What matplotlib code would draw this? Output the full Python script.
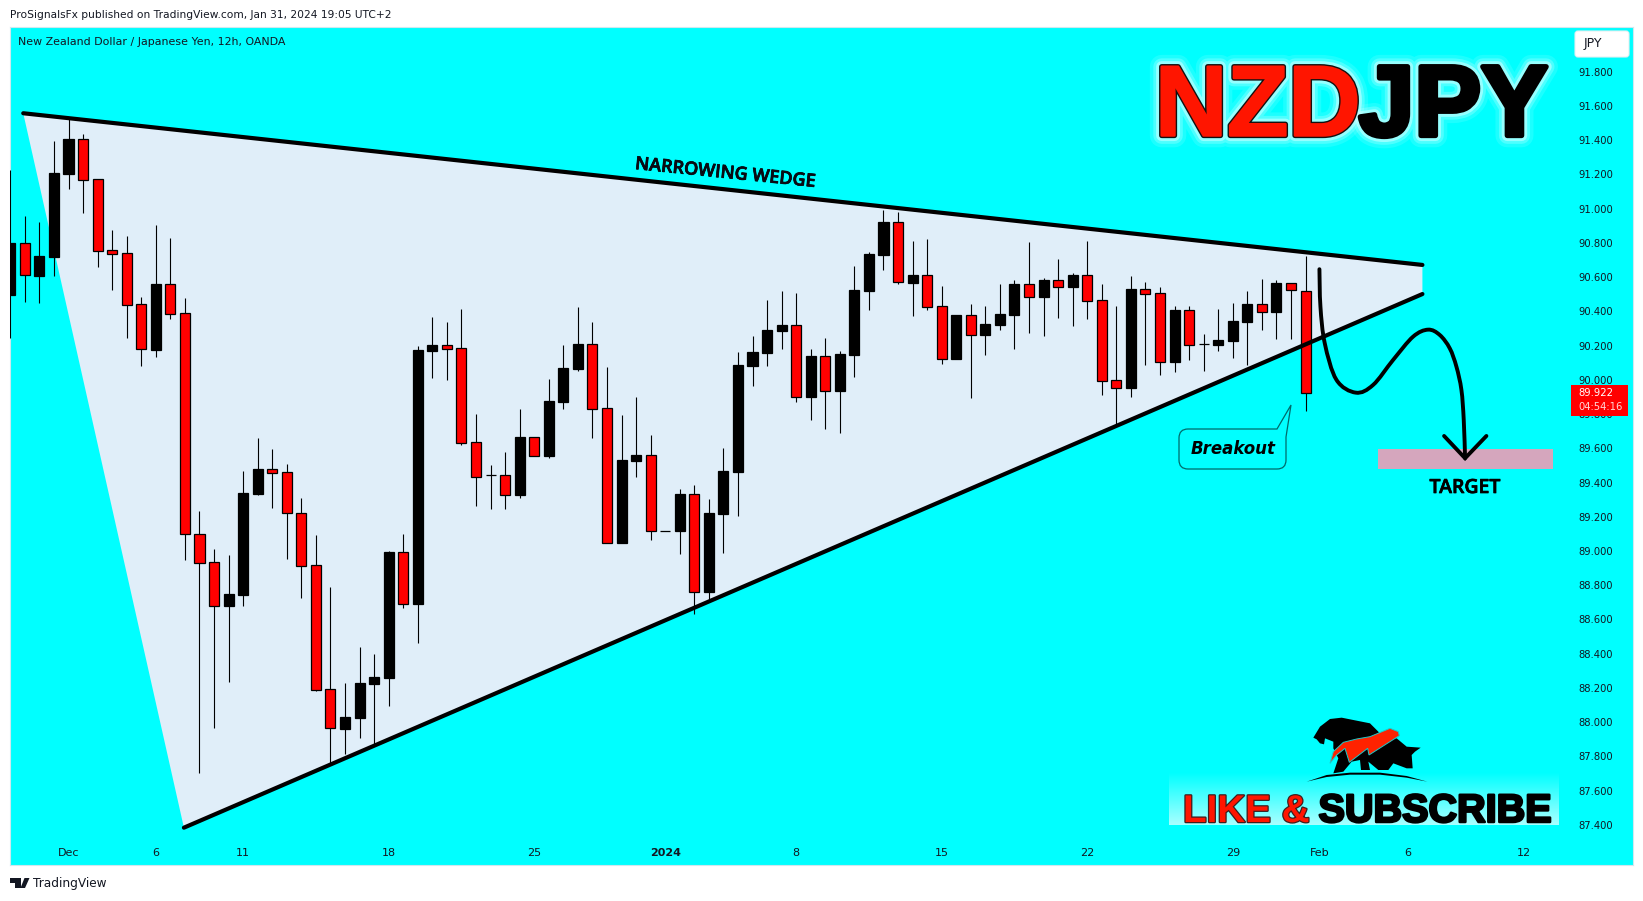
#!/usr/bin/env python3
"""NZDJPY 12h candles with a narrowing wedge, redrawn from a TradingView snapshot."""

import numpy as np
import matplotlib
matplotlib.use('Agg')
import matplotlib.pyplot as plt
import matplotlib.patheffects as pe
from matplotlib.patches import PathPatch, Polygon, Rectangle, FancyBboxPatch
from matplotlib.path import Path

CYAN = '#00FFFF'
WEDGE = '#E0EEF9'

opens = [90.498, 90.797, 90.607, 90.718, 91.202, 91.405, 91.171, 90.756, 90.739, 90.441,
         90.176, 90.558, 90.388, 89.098, 88.934, 88.681, 88.743, 89.333, 89.477, 89.460,
         89.220, 88.917, 88.192, 87.963, 88.027, 88.226, 88.261, 88.993, 88.693, 90.169,
         90.204, 90.184, 89.635, 89.443, 89.443, 89.328, 89.665, 89.556, 89.871, 90.064,
         90.208, 89.834, 89.049, 89.526, 89.559, 89.116, 89.114, 89.332, 88.763, 89.219,
         89.464, 90.081, 90.157, 90.286, 90.319, 89.900, 90.138, 89.937, 90.147, 90.521,
         90.731, 90.920, 90.568, 90.611, 90.429, 90.124, 90.377, 90.262, 90.320, 90.379,
         90.558, 90.484, 90.581, 90.542, 90.611, 90.465, 89.997, 89.954, 90.529, 90.505,
         90.104, 90.406, 90.208, 90.204, 90.227, 90.338, 90.441, 90.398, 90.564, 90.521]
highs = [91.226, 90.957, 90.922, 91.395, 91.522, 91.436, 91.171, 90.875, 90.840, 90.484,
         90.904, 90.829, 90.478, 89.234, 89.012, 88.977, 89.468, 89.661, 89.596, 89.509,
         89.310, 89.094, 88.790, 88.229, 88.440, 88.399, 89.000, 89.100, 90.198, 90.367,
         90.338, 90.414, 89.801, 89.503, 89.579, 89.830, 89.665, 90.005, 90.204, 90.426,
         90.338, 90.075, 89.795, 89.900, 89.678, 89.116, 89.363, 89.386, 89.304, 89.602,
         90.163, 90.256, 90.467, 90.519, 90.508, 90.181, 90.245, 90.169, 90.665, 90.747,
         90.992, 90.980, 90.811, 90.823, 90.548, 90.379, 90.443, 90.431, 90.560, 90.583,
         90.805, 90.593, 90.706, 90.624, 90.811, 90.560, 90.431, 90.607, 90.572, 90.542,
         90.431, 90.431, 90.268, 90.414, 90.449, 90.519, 90.589, 90.583, 90.564, 90.723]
lows = [90.242, 90.457, 90.451, 90.609, 91.117, 90.976, 90.661, 90.525, 90.246, 90.083,
        90.135, 90.357, 88.950, 87.706, 87.969, 88.237, 88.681, 89.328, 89.254, 88.956,
        88.728, 88.185, 87.760, 87.817, 87.910, 87.873, 88.097, 88.669, 88.465, 90.013,
        89.996, 89.622, 89.260, 89.248, 89.248, 89.312, 89.557, 89.546, 89.832, 90.054,
        89.663, 89.044, 89.049, 89.435, 89.067, 89.116, 88.985, 88.635, 88.705, 88.991,
        89.207, 89.961, 90.081, 90.181, 89.871, 89.766, 89.713, 89.690, 90.019, 90.410,
        90.644, 90.562, 90.375, 90.410, 90.095, 90.124, 89.896, 90.145, 90.291, 90.182,
        90.276, 90.258, 90.363, 90.317, 90.357, 89.914, 89.738, 89.902, 90.089, 90.030,
        90.048, 90.118, 90.054, 90.169, 90.130, 90.089, 90.293, 90.241, 90.241, 89.820]
closes = [90.797, 90.610, 90.723, 91.208, 91.407, 91.169, 90.755, 90.737, 90.439, 90.178,
          90.560, 90.387, 89.098, 88.932, 88.681, 88.749, 89.339, 89.479, 89.458, 89.220,
          88.915, 88.190, 87.965, 88.031, 88.229, 88.264, 88.995, 88.693, 90.174, 90.204,
          90.182, 89.633, 89.435, 89.443, 89.330, 89.667, 89.557, 89.877, 90.070, 90.210,
          89.832, 89.049, 89.532, 89.561, 89.114, 89.116, 89.334, 88.763, 89.223, 89.468,
          90.087, 90.163, 90.292, 90.321, 89.902, 90.140, 89.937, 90.151, 90.525, 90.735,
          90.922, 90.570, 90.612, 90.428, 90.124, 90.379, 90.264, 90.326, 90.385, 90.560,
          90.486, 90.583, 90.544, 90.612, 90.463, 89.995, 89.954, 90.531, 90.503, 90.106,
          90.408, 90.206, 90.208, 90.233, 90.344, 90.443, 90.398, 90.566, 90.523, 89.921]

price_ticks = [87.4, 87.6, 87.8, 88.0, 88.2, 88.4, 88.6, 88.8, 89.0, 89.2, 89.4, 89.6,
               89.8, 90.0, 90.2, 90.4, 90.6, 90.8, 91.0, 91.2, 91.4, 91.6, 91.8]
date_ticks = [4, 10, 16, 26, 36, 45, 54, 64, 74, 84, 90, 96, 104]
date_labels = ['Dec', '6', '11', '18', '25', '2024', '8', '15', '22', '29', 'Feb', '6', '12']

# wedge corners and the projected path, in bar index / price
wedge_x = [0.89, 97.03, 97.03, 11.93]
wedge_y = [91.557, 90.671, 90.501, 87.384]
path_x = [89.954, 90.023, 90.321, 91.122, 92.450, 93.641, 95.015, 96.389, 97.420, 98.221,
          98.908, 99.366, 99.710, 99.870, 99.962]
path_y = [90.646, 90.428, 90.213, 90.000, 89.925, 89.970, 90.116, 90.252, 90.293, 90.262,
          90.184, 90.077, 89.941, 89.766, 89.542]
head_x = [98.519, 99.962, 101.427]
head_y = [89.672, 89.542, 89.672]
target_x = [94.007, 106.007]
target_y = [89.477, 89.594]


def smooth_path(xs, ys):
    """Catmull-Rom through the points, written as cubic bezier segments."""
    pts = np.column_stack([xs, ys])
    verts = [pts[0]]
    codes = [Path.MOVETO]
    for i in range(len(pts) - 1):
        p0 = pts[max(i - 1, 0)]
        p1 = pts[i]
        p2 = pts[i + 1]
        p3 = pts[min(i + 2, len(pts) - 1)]
        verts += [p1 + (p2 - p0) / 6, p2 - (p3 - p1) / 6, p2]
        codes += [Path.CURVE4] * 3
    return Path(verts, codes)


fig = plt.figure(figsize=(16.43, 9.01), dpi=100, facecolor='white')
ax = fig.add_axes([10 / 1643, (901 - 865) / 901, 1623 / 1643, 837.7 / 901], facecolor=CYAN)

# wedge fill under the candles
ax.add_patch(Polygon(np.column_stack([wedge_x, wedge_y]), closed=True, facecolor=WEDGE,
                     edgecolor='none', zorder=1))

# candles
idx = np.arange(len(opens))
o = np.array(opens)
c = np.array(closes)
colors = ['red' if cl < op else 'black' for op, cl in zip(opens, closes)]
ax.vlines(idx, lows, highs, color='black', linewidth=0.8, zorder=2)
ax.bar(idx, np.abs(c - o), bottom=np.minimum(o, c), width=0.69, color=colors,
       edgecolor='black', linewidth=0.9, zorder=3)

# trend lines
ax.plot([wedge_x[0], wedge_x[1]], [wedge_y[0], wedge_y[1]], color='black', linewidth=3.0,
        solid_capstyle='round', zorder=4)
ax.plot([wedge_x[3], wedge_x[2]], [wedge_y[3], wedge_y[2]], color='black', linewidth=3.0,
        solid_capstyle='round', zorder=4)

# projection and target zone
ax.add_patch(Rectangle((target_x[0], target_y[0]), target_x[1] - target_x[0],
                       target_y[1] - target_y[0], facecolor='#D5A6BD', edgecolor='none', zorder=2))
ax.add_patch(PathPatch(smooth_path(path_x, path_y), facecolor='none', edgecolor='black',
                       linewidth=2.8, capstyle='round', zorder=5))
ax.plot(head_x, head_y, color='black', linewidth=2.8, solid_capstyle='round',
        solid_joinstyle='miter', zorder=5)

ax.set_xlim(-0.02, 111.5)
ax.set_ylim(87.166, 92.059)
ax.set_yticks(price_ticks)
ax.set_yticklabels([f'{p:.3f}' for p in price_ticks])
ax.set_xticks(date_ticks)
ax.set_xticklabels(date_labels)
ax.tick_params(axis='y', length=0, right=True, left=False, labelright=True, labelleft=False,
               pad=-39.6, labelsize=7.2, labelcolor='#131722')
ax.tick_params(axis='x', length=0, pad=-12.5, labelsize=8, labelcolor='#131722')
ax.get_xticklabels()[5].set_fontweight('bold')
for spine in ax.spines.values():
    spine.set_color('#CFE8EE')
    spine.set_linewidth(0.8)
    spine.set_zorder(0.5)

# overlay in picture pixels for the decorations
top = fig.add_axes([0, 0, 1, 1], facecolor='none', zorder=10)
top.axis('off')

# glow behind the subscribe banner
glow = np.zeros((40, 2, 4))
glow[..., :3] = (0.78, 1.0, 1.0)
glow[..., 3] = np.linspace(0, 0.85, 40)[:, None]
top.imshow(glow, extent=(1169, 1559, 825, 772), aspect='auto', origin='upper', zorder=1)
top.set_xlim(0, 1643)
top.set_ylim(901, 0)

top.text(10, 15, 'ProSignalsFx published on TradingView.com, Jan 31, 2024 19:05 UTC+2',
         fontsize=7.7, color='#131722', va='center')
top.text(18, 42, 'New Zealand Dollar / Japanese Yen, 12h, OANDA', fontsize=7.95,
         color='#131722', va='center')

# TradingView mark
top.add_patch(Polygon([(10, 878), (21, 878), (21, 888), (15, 888), (15, 882.5), (10, 882.5)],
                      closed=True, facecolor='#131722', edgecolor='none'))
top.add_patch(Polygon([(24.5, 878), (29.5, 878), (25, 888), (20.5, 888)], closed=True,
                      facecolor='#131722', edgecolor='none'))
top.text(33, 883.5, 'TradingView', fontsize=8.7, color='#131722', va='center')

# currency box and last price
top.add_patch(FancyBboxPatch((1577, 33), 50, 22, boxstyle='round,pad=2,rounding_size=3',
                             facecolor='white', edgecolor='#E6F0F2', linewidth=0.8))
top.text(1584, 44, 'JPY', fontsize=9, color='#131722', va='center')
top.add_patch(Rectangle((1571, 385), 57, 31, facecolor='#FF0000', edgecolor='none'))
top.text(1578, 393, '89.922', fontsize=7.2, color='white', va='center')
top.text(1578, 407.5, '04:54:16', fontsize=7.2, color='#FFD5D5', va='center')

# big title: glow layer first, then the crisp letters
glow_fx = [pe.withStroke(linewidth=17, foreground='#A0FFFF', alpha=0.18),
           pe.withStroke(linewidth=12, foreground='#C0FFFF', alpha=0.3),
           pe.withStroke(linewidth=8, foreground='#E0FFFF', alpha=0.5)]
title_font = dict(fontsize=72, fontfamily='Liberation Sans', fontweight='bold', va='baseline')
for word, xpos, align in [('NZD', 1155, 'left'), ('JPY', 1548, 'right')]:
    top.text(xpos, 135.5, word, color='none', ha=align, path_effects=glow_fx, zorder=2, **title_font)
top.text(1155, 135.5, 'NZD', color='#FF1500', ha='left', zorder=3,
         path_effects=[pe.Stroke(linewidth=3.8, foreground='#111111', joinstyle='round'),
                       pe.Stroke(linewidth=1.8, foreground='#FF1500', joinstyle='round'),
                       pe.Normal()], **title_font)
top.text(1548, 135.5, 'JPY', color='black', ha='right', zorder=3,
         path_effects=[pe.Stroke(linewidth=3.8, foreground='black', joinstyle='round'),
                       pe.Normal()], **title_font)

thicker = [pe.withStroke(linewidth=0.5, foreground='black')]
top.text(725.5, 173, 'NARROWING WEDGE', fontsize=13, fontfamily='Open Sans', fontweight='semibold',
         color='#0A0A14', rotation=-5.7, rotation_mode='anchor', ha='center', va='center',
         path_effects=thicker)
top.text(1465, 488, 'TARGET', fontsize=14, fontfamily='Open Sans', fontweight='semibold',
         color='black', ha='center', va='center', path_effects=thicker)

# breakout callout
bx0, bx1, by0, by1, r = 1179, 1286, 429, 469, 9
callout = Path([(bx0 + r, by0), (1277, by0), (1291, 405), (bx1, 437), (bx1, by1 - r), (bx1, by1),
                (bx1 - r, by1), (bx0 + r, by1), (bx0, by1), (bx0, by1 - r), (bx0, by0 + r),
                (bx0, by0), (bx0 + r, by0), (bx0 + r, by0)],
               [Path.MOVETO, Path.LINETO, Path.LINETO, Path.LINETO, Path.LINETO, Path.CURVE3,
                Path.CURVE3, Path.LINETO, Path.CURVE3, Path.CURVE3, Path.LINETO, Path.CURVE3,
                Path.CURVE3, Path.CLOSEPOLY])
top.add_patch(PathPatch(callout, facecolor=CYAN, edgecolor='#006A6A', linewidth=0.9))
top.text(1233, 448.5, 'Breakout', fontsize=12, fontweight='bold', fontstyle='italic',
         color='black', ha='center', va='center')

# bear and bull logo, traced roughly
def logo(x, y):
    return [(1300 + a / 3, 705 + b / 3) for a, b in zip(x, y)]


top.add_patch(Polygon(logo(
    [40, 60, 90, 125, 175, 210, 235, 245, 290, 320, 362, 345, 335, 338, 320, 280, 265, 235, 205,
     210, 183, 180, 155, 130, 100, 115, 100, 100, 75, 72, 60, 50],
    [98, 65, 42, 38, 48, 55, 80, 100, 100, 125, 128, 140, 150, 190, 190, 175, 195, 195, 170,
     195, 195, 165, 170, 200, 205, 160, 130, 110, 100, 118, 115, 103]),
    closed=True, facecolor='black', edgecolor='none', zorder=2))
top.add_patch(Polygon(logo(
    [90, 100, 130, 170, 210, 270, 295, 298, 207, 203, 148, 135, 110],
    [175, 140, 112, 102, 95, 70, 80, 92, 150, 130, 172, 130, 150]),
    closed=True, facecolor='#FF2200', edgecolor='#20C8C8', linewidth=0.7, zorder=2))
top.add_patch(Polygon(logo(
    [20, 80, 150, 240, 320, 382, 320, 240, 150, 80],
    [230, 210, 203, 203, 213, 230, 218, 209, 209, 216]),
    closed=True, facecolor='black', edgecolor='none', zorder=2))

top.text(1183, 822, 'LIKE &', fontsize=27.8, fontfamily='Liberation Sans', fontweight='bold',
         color='#FF1500', va='baseline', ha='left', zorder=2,
         path_effects=[pe.withStroke(linewidth=1.8, foreground='#3A2020')])
top.text(1551, 822, 'SUBSCRIBE', fontsize=28.5, fontfamily='Liberation Sans', fontweight='bold',
         color='black', va='baseline', ha='right', zorder=2,
         path_effects=[pe.withStroke(linewidth=1.8, foreground='black')])

fig.savefig('out.png', dpi=100)
